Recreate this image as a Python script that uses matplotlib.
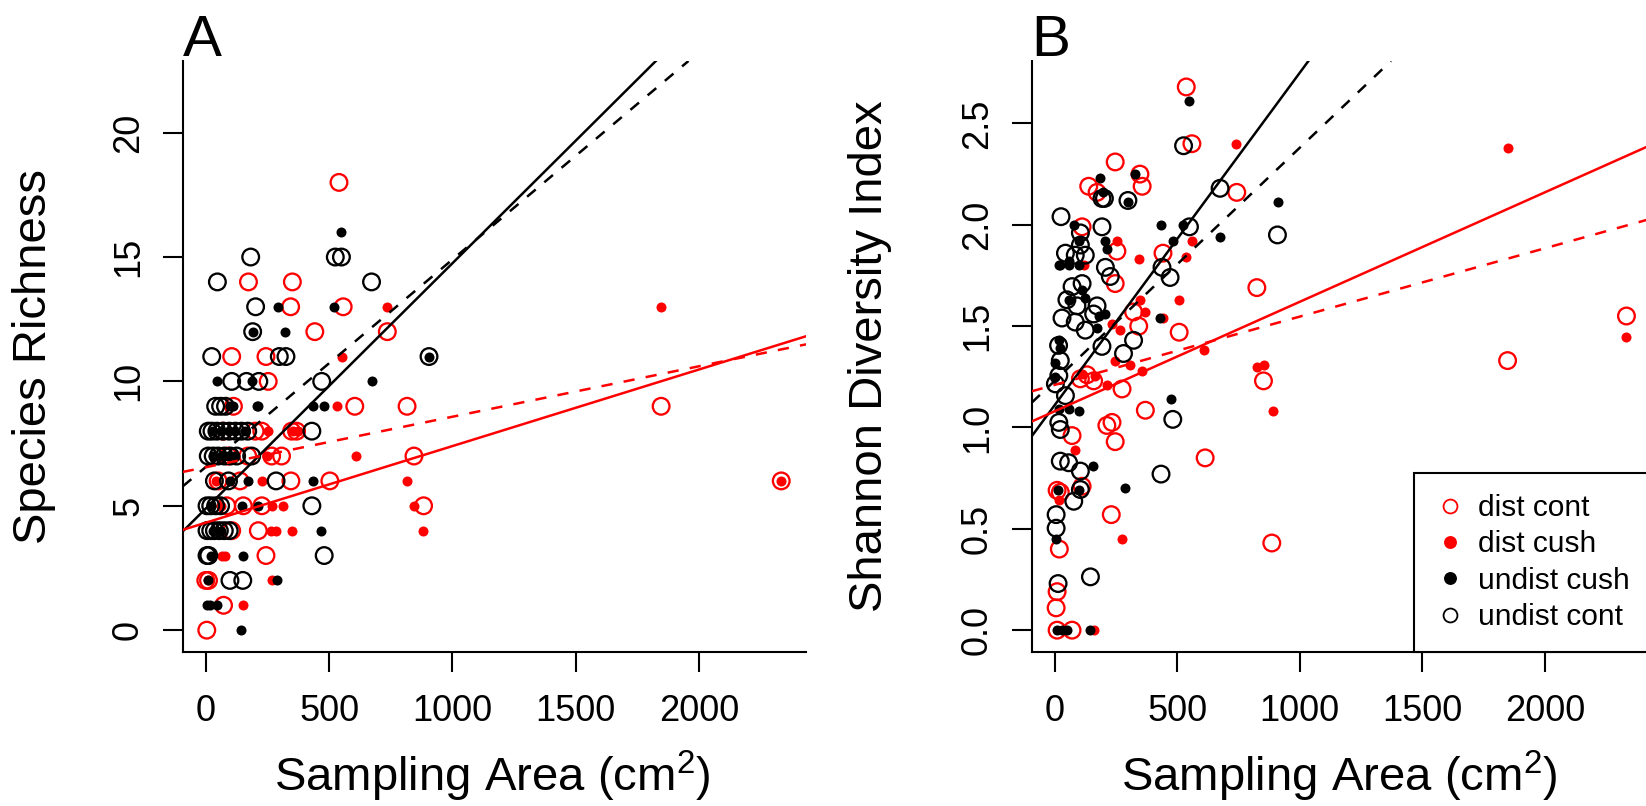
import matplotlib
matplotlib.use("Agg")
import matplotlib.pyplot as plt
from matplotlib.lines import Line2D

plt.rcParams['font.family'] = ['Liberation Sans', 'DejaVu Sans']
plt.rcParams['mathtext.fontset'] = 'custom'
plt.rcParams['mathtext.rm'] = 'Liberation Sans'
plt.rcParams['mathtext.it'] = 'Liberation Sans:italic'

# Panel A: species richness vs sampling area
a_dist_cont_x = [540, 173, 351, 344, 557, 442, 736, 105, 244, 253, 112, 604, 816, 1846, 200, 227, 348, 368,
                 267, 307, 844, 139, 345, 503, 2333, 85, 152, 227, 883, 105, 213, 244, 0, 11, 72, 4, 90, 50, 70, 170]
a_dist_cont_y = [18, 14, 14, 13, 13, 12, 12, 11, 11, 10, 9, 9, 9, 9, 8, 8, 8, 8,
                 7, 7, 7, 6, 6, 6, 6, 5, 5, 5, 5, 4, 4, 3, 2, 2, 1, 0, 7, 6, 8, 7]
a_dist_cush_x = [735, 1846, 554, 530, 254, 355, 375, 247, 607, 227, 816, 2333, 270, 311, 844, 265, 285,
                 351, 880, 65, 78, 267, 150, 60, 40, 10]
a_dist_cush_y = [13, 13, 11, 9, 8, 8, 8, 7, 7, 6, 6, 6, 5, 5, 5, 4, 4,
                 4, 4, 3, 3, 2, 1, 5, 6, 2]
a_undist_cush_x = [550, 294, 519, 190, 321, 905, 45, 186, 672, 100, 110, 206, 213, 433, 479, 30, 60, 95,
                   120, 160, 30, 60, 90, 120, 170, 100, 433, 148, 210, 20, 30, 60, 469, 150, 20, 10, 287,
                   5, 17, 45, 143]
a_undist_cush_y = [16, 13, 13, 12, 12, 11, 10, 10, 10, 9, 9, 9, 9, 9, 9, 8, 8, 8,
                   8, 8, 7, 7, 7, 7, 6, 6, 6, 5, 5, 5, 4, 4, 4, 3, 3, 2, 2,
                   1, 1, 1, 0]
a_undist_cont_x = [182, 525, 550, 47, 672, 202, 190, 24, 298, 325, 905, 105, 165, 215, 470, 40, 60, 80,
                   10, 25, 45, 70, 95, 120, 145, 170, 430, 10, 30, 50, 75, 100, 125, 186, 35, 92, 285,
                   5, 20, 40, 60, 430, 5, 20, 35, 55, 75, 95, 5, 12, 480, 98, 150]
a_undist_cont_y = [15, 15, 15, 14, 14, 13, 12, 11, 11, 11, 11, 10, 10, 10, 10, 9, 9, 9,
                   8, 8, 8, 8, 8, 8, 8, 8, 8, 7, 7, 7, 7, 7, 7, 7, 6, 6, 6,
                   5, 5, 5, 5, 5, 4, 4, 4, 4, 4, 4, 3, 3, 3, 2, 2]

# Panel B: Shannon diversity vs sampling area
b_dist_cont_x = [537, 560, 247, 348, 357, 139, 173, 743, 112, 254, 442, 825, 247, 322, 343, 508, 132, 159,
                 105, 275, 852, 370, 234, 213, 71, 247, 614, 10, 23, 112, 231, 19, 886, 10, 6, 10, 71,
                 1848, 2333]
b_dist_cont_y = [2.68, 2.40, 2.31, 2.25, 2.19, 2.19, 2.16, 2.16, 1.99, 1.87, 1.86, 1.69, 1.71, 1.57, 1.50,
                 1.47, 1.26, 1.23, 1.24, 1.19, 1.23, 1.085, 1.025, 1.01, 0.96, 0.93, 0.85, 0.69, 0.68,
                 0.71, 0.57, 0.40, 0.43, 0.19, 0.11, 0.0, 0.0, 1.33, 1.55]
b_dist_cush_x = [740, 1848, 254, 560, 118, 345, 537, 508, 349, 370, 444, 234, 268, 247, 308, 356, 112, 166,
                 214, 611, 825, 855, 890, 82, 17, 275, 159, 2333]
b_dist_cush_y = [2.40, 2.38, 1.92, 1.92, 1.80, 1.83, 1.84, 1.63, 1.63, 1.57, 1.54, 1.51, 1.48, 1.33, 1.31,
                 1.28, 1.265, 1.256, 1.21, 1.38, 1.30, 1.31, 1.08, 0.89, 0.64, 0.45, 0.0, 1.445]
b_undist_cush_x = [549, 184, 326, 197, 299, 910, 78, 435, 523, 482, 675, 98, 207, 213, 57, 23, 16, 57, 98,
                   57, 112, 125, 180, 207, 173, 431, 23, 17, 2, 3, 17, 57, 98, 476, 155, 288, 12, 101, 6,
                   10, 30, 50, 146]
b_undist_cush_y = [2.61, 2.23, 2.25, 2.16, 2.11, 2.11, 2.00, 2.00, 2.00, 1.92, 1.94, 1.92, 1.92, 1.88,
                   1.82, 1.80, 1.80, 1.80, 1.80, 1.63, 1.68, 1.64, 1.55, 1.56, 1.49, 1.54, 1.39, 1.43,
                   1.32, 1.25, 1.09, 1.09, 1.08, 1.14, 0.81, 0.70, 0.69, 0.69, 0.45, 0.0, 0.0, 0.0, 0.0]
b_undist_cont_x = [526, 675, 909, 550, 438, 471, 482, 434, 193, 203, 299, 26, 193, 105, 105, 44, 84, 125,
                   207, 227, 71, 112, 50, 91, 173, 159, 30, 84, 125, 16, 193, 281, 322, 23, 17, 3, 44,
                   17, 23, 23, 57, 105, 105, 78, 6, 6, 146, 14]
b_undist_cont_y = [2.39, 2.18, 1.95, 1.99, 1.79, 1.74, 1.04, 0.77, 2.13, 2.13, 2.12, 2.04, 1.99, 1.96,
                   1.90, 1.86, 1.85, 1.85, 1.79, 1.745, 1.695, 1.71, 1.63, 1.60, 1.60, 1.56, 1.54, 1.52,
                   1.48, 1.405, 1.40, 1.365, 1.43, 1.33, 1.256, 1.215, 1.157, 1.025, 0.99, 0.834, 0.826,
                   0.785, 0.694, 0.636, 0.57, 0.503, 0.263, 0.23]

# fitted lines (intercept, slope): undist solid, undist dashed, dist solid, dist dashed
a_fits = [(4.89, 0.00986), (6.56, 0.00834), (4.32, 0.00308), (6.55, 0.00203)]
b_fits = [(1.11, 0.00164), (1.23, 0.00115), (1.08, 0.00054), (1.21, 0.000337)]
fit_colors = ['black', 'black', 'red', 'red']
fit_styles = ['-', '--', '-', '--']

legend_labels = ['dist cont', 'dist cush', 'undist cush', 'undist cont']

fig = plt.figure(figsize=(16.46, 8.06), dpi=100)
ax1 = fig.add_axes([0.111, 0.191, 0.3787, 0.7333])
ax2 = fig.add_axes([0.6268, 0.191, 0.3763, 0.7333])

ring = dict(s=144, facecolors='none', linewidths=1.65, zorder=3)
dot = dict(s=52, linewidths=0, zorder=3)


def draw_panel(ax, dc, dcu, uc, ucont, fits, ylim, yticks, ylabel, letter, ylab_x):
    ax.scatter(dc[0], dc[1], edgecolors='red', **ring)
    ax.scatter(dcu[0], dcu[1], c='red', **dot)
    ax.scatter(uc[0], uc[1], c='black', **dot)
    ax.scatter(ucont[0], ucont[1], edgecolors='black', **ring)

    for (a, b), col, ls in zip(fits, fit_colors, fit_styles):
        line = ax.axline((0, a), slope=b, color=col, linestyle=ls, linewidth=1.8, zorder=4)
        if ls == '--':
            line.set_dashes((4.5, 4.5))

    ax.set_xlim(-93.6, 2433.6)
    ax.set_ylim(*ylim)
    ax.set_xticks([0, 500, 1000, 1500, 2000])
    ax.set_yticks(yticks)
    ax.spines['top'].set_visible(False)
    ax.spines['right'].set_visible(False)
    for s in ['left', 'bottom']:
        ax.spines[s].set_linewidth(1.5)
    ax.tick_params(direction='out', length=14.4, width=1.5, labelsize=26)
    ax.tick_params(axis='x', pad=16)
    ax.tick_params(axis='y', pad=12, labelrotation=90)
    for lbl in ax.get_yticklabels():
        lbl.set_va('center')

    ax.set_xlabel('Sampling Area (cm$^{2}$)', fontsize=34, va='baseline')
    ax.xaxis.set_label_coords(0.496, -0.236)
    ax.set_ylabel(ylabel, fontsize=34)
    ax.yaxis.set_label_coords(ylab_x, 0.5)
    ax.text(0.0, 1.0085, letter, transform=ax.transAxes, fontsize=42, ha='left', va='baseline')


draw_panel(ax1, (a_dist_cont_x, a_dist_cont_y), (a_dist_cush_x, a_dist_cush_y),
           (a_undist_cush_x, a_undist_cush_y), (a_undist_cont_x, a_undist_cont_y),
           a_fits, (-0.88, 22.88), [0, 5, 10, 15, 20], 'Species Richness', 'A', -0.203)
draw_panel(ax2, (b_dist_cont_x, b_dist_cont_y), (b_dist_cush_x, b_dist_cush_y),
           (b_undist_cush_x, b_undist_cush_y), (b_undist_cont_x, b_undist_cont_y),
           b_fits, (-0.108, 2.808), [0.0, 0.5, 1.0, 1.5, 2.0, 2.5], 'Shannon Diversity Index', 'B', -0.226)
ax2.set_yticklabels(['0.0', '0.5', '1.0', '1.5', '2.0', '2.5'], va='center')

# legend in panel B
handles = [
    Line2D([], [], ls='', marker='o', ms=10, mfc='none', mec='red', mew=1.3),
    Line2D([], [], ls='', marker='o', ms=9.3, mfc='red', mec='red', mew=0),
    Line2D([], [], ls='', marker='o', ms=9.3, mfc='black', mec='black', mew=0),
    Line2D([], [], ls='', marker='o', ms=10, mfc='none', mec='black', mew=1.3),
]
leg = ax2.legend(handles, legend_labels, loc='lower right', bbox_to_anchor=(1, 0), borderaxespad=0,
                 fontsize=21.5, frameon=True, fancybox=False, framealpha=1, edgecolor='black',
                 handlelength=1.0, handletextpad=0.45, labelspacing=0.28, borderpad=0.7)
leg.get_frame().set_linewidth(1.5)

fig.savefig('out.png', dpi=100)
